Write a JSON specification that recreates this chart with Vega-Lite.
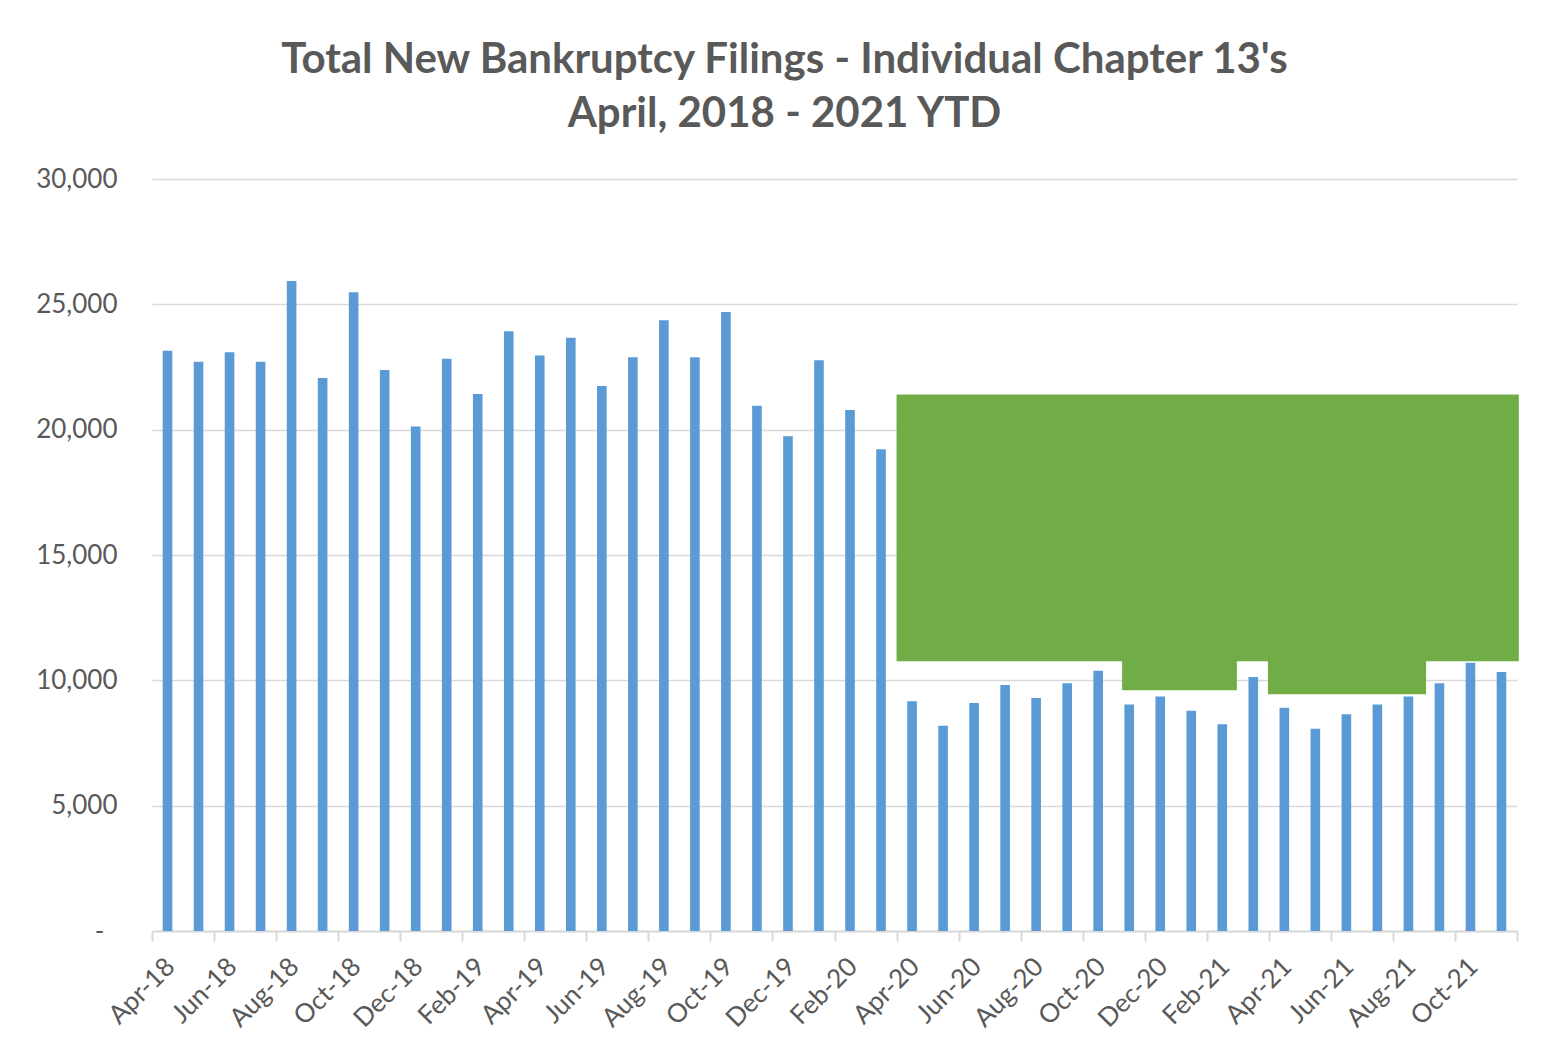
{
  "$schema": "https://vega.github.io/schema/vega-lite/v6.json",
  "width": 1365,
  "height": 752,
  "autosize": {"type": "none"},
  "padding": {"left": 152, "top": 179, "right": 27, "bottom": 119},
  "background": "white",
  "config": {"view": {"stroke": null}, "font": "Lato"},
  "title": {
    "text": ["Total New Bankruptcy Filings - Individual Chapter 13's", "April, 2018 - 2021 YTD"],
    "font": "Lato",
    "fontSize": 42,
    "fontWeight": "bold",
    "color": "#595959",
    "lineHeight": 54,
    "anchor": "middle",
    "dx": -50,
    "offset": 30
  },
  "datasets": {
    "filings": [
      {"month": "Apr-18", "filings": 23150},
      {"month": "May-18", "filings": 22710},
      {"month": "Jun-18", "filings": 23090},
      {"month": "Jul-18", "filings": 22710},
      {"month": "Aug-18", "filings": 25930},
      {"month": "Sep-18", "filings": 22060},
      {"month": "Oct-18", "filings": 25480},
      {"month": "Nov-18", "filings": 22380},
      {"month": "Dec-18", "filings": 20130},
      {"month": "Jan-19", "filings": 22830},
      {"month": "Feb-19", "filings": 21420},
      {"month": "Mar-19", "filings": 23930},
      {"month": "Apr-19", "filings": 22960},
      {"month": "May-19", "filings": 23670},
      {"month": "Jun-19", "filings": 21740},
      {"month": "Jul-19", "filings": 22890},
      {"month": "Aug-19", "filings": 24370},
      {"month": "Sep-19", "filings": 22890},
      {"month": "Oct-19", "filings": 24690},
      {"month": "Nov-19", "filings": 20950},
      {"month": "Dec-19", "filings": 19740},
      {"month": "Jan-20", "filings": 22770},
      {"month": "Feb-20", "filings": 20780},
      {"month": "Mar-20", "filings": 19220},
      {"month": "Apr-20", "filings": 9170},
      {"month": "May-20", "filings": 8190},
      {"month": "Jun-20", "filings": 9100},
      {"month": "Jul-20", "filings": 9810},
      {"month": "Aug-20", "filings": 9300},
      {"month": "Sep-20", "filings": 9880},
      {"month": "Oct-20", "filings": 10380},
      {"month": "Nov-20", "filings": 9040},
      {"month": "Dec-20", "filings": 9360},
      {"month": "Jan-21", "filings": 8790},
      {"month": "Feb-21", "filings": 8250},
      {"month": "Mar-21", "filings": 10130},
      {"month": "Apr-21", "filings": 8910},
      {"month": "May-21", "filings": 8070},
      {"month": "Jun-21", "filings": 8650},
      {"month": "Jul-21", "filings": 9040},
      {"month": "Aug-21", "filings": 9360},
      {"month": "Sep-21", "filings": 9880},
      {"month": "Oct-21", "filings": 10700},
      {"month": "Nov-21", "filings": 10330}
    ],
    "overlay": [
      {"start": 24, "end": 44.06, "low": 10765, "high": 21407},
      {"start": 31.27, "end": 34.97, "low": 9608, "high": 10900},
      {"start": 35.97, "end": 41.07, "low": 9448, "high": 10900}
    ]
  },
  "layer": [
    {
      "data": {"name": "filings"},
      "mark": {"type": "bar", "color": "#5B9BD5"},
      "encoding": {
        "x": {
          "field": "month",
          "type": "nominal",
          "sort": null,
          "scale": {"paddingInner": 0.69, "paddingOuter": 0.345},
          "axis": {
            "title": null,
            "values": ["Apr-18", "Jun-18", "Aug-18", "Oct-18", "Dec-18", "Feb-19", "Apr-19", "Jun-19", "Aug-19", "Oct-19", "Dec-19", "Feb-20", "Apr-20", "Jun-20", "Aug-20", "Oct-20", "Dec-20", "Feb-21", "Apr-21", "Jun-21", "Aug-21", "Oct-21"],
            "ticks": false,
            "grid": false,
            "domain": true,
            "domainColor": "#d9d9d9",
            "domainWidth": 2,
            "labelAngle": -45,
            "labelFont": "Lato",
            "labelFontSize": 26,
            "labelColor": "#595959",
            "labelPadding": 22,
            "labelOffset": -6,
            "labelOverlap": false
          }
        },
        "y": {
          "field": "filings",
          "type": "quantitative",
          "scale": {"domain": [0, 30000], "nice": false},
          "axis": {
            "title": null,
            "values": [0, 5000, 10000, 15000, 20000, 25000, 30000],
            "domain": false,
            "ticks": false,
            "grid": true,
            "gridColor": "#d9d9d9",
            "gridWidth": 1.5,
            "labelExpr": "datum.value == 0 ? '-' : format(datum.value, ',')",
            "labelFont": "Lato",
            "labelFontSize": 26,
            "labelColor": "#595959",
            "labelPadding": {"condition": {"test": "datum.value == 0", "value": 48}, "value": 35},
            "labelOverlap": false
          }
        }
      }
    },
    {
      "data": {"name": "overlay"},
      "mark": {"type": "rect", "color": "#70AD47"},
      "encoding": {
        "x": {
          "field": "start",
          "type": "quantitative",
          "scale": {"domain": [0, 44], "nice": false, "zero": false},
          "axis": {
            "orient": "bottom",
            "title": null,
            "values": [0, 2, 4, 6, 8, 10, 12, 14, 16, 18, 20, 22, 24, 26, 28, 30, 32, 34, 36, 38, 40, 42, 44],
            "labels": false,
            "domain": false,
            "grid": false,
            "ticks": true,
            "tickSize": 10,
            "tickWidth": 2,
            "tickColor": "#d9d9d9"
          }
        },
        "x2": {"field": "end"},
        "y": {"field": "low", "type": "quantitative"},
        "y2": {"field": "high"}
      }
    }
  ],
  "resolve": {"scale": {"x": "independent"}, "axis": {"x": "independent"}}
}
